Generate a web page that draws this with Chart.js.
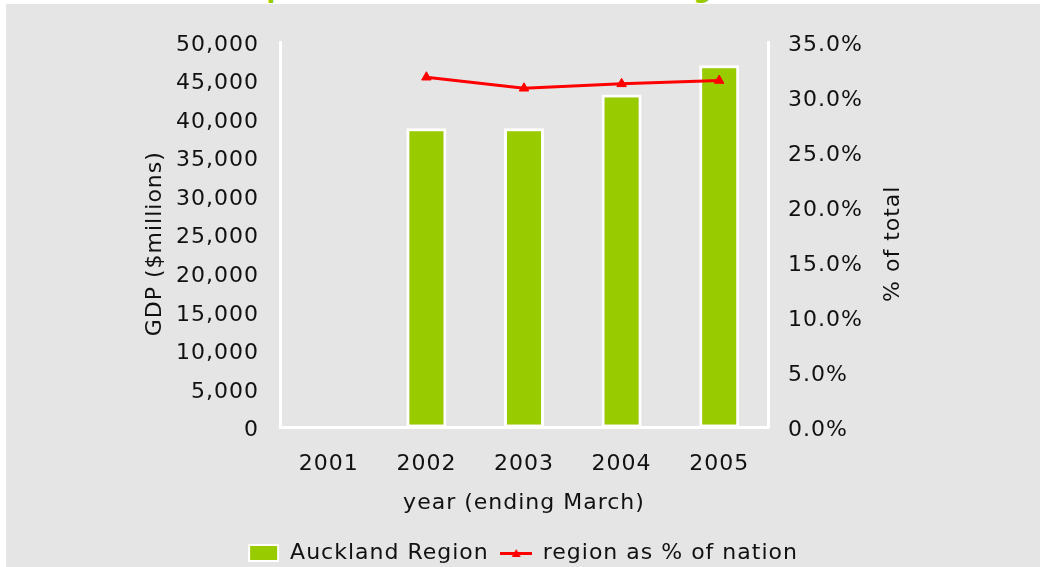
<!DOCTYPE html>
<html>
<head>
<meta charset="utf-8">
<script src="https://cdn.jsdelivr.net/npm/chart.js@4.4.1/dist/chart.umd.min.js"></script>
<style>
  html, body { margin: 0; padding: 0; width: 1040px; height: 567px; overflow: hidden; background: #fff; }
  #title { position: absolute; left: 17px; top: -25px; font: bold 26px 'DejaVu Sans'; line-height: 26px;
           letter-spacing: 1px; color: #99cc00; white-space: nowrap; }
  #wrap { position: absolute; left: 6px; top: 4px; width: 1034px; height: 570px; background: #e5e5e5; }
</style>
</head>
<body>
<div id="title">Gross domestic product of the Auckland Region</div>
<div id="wrap"><canvas id="chart"></canvas></div>
<script>
const years = ['2001', '2002', '2003', '2004', '2005'];
const gdp = [null, 38800, 38800, 43200, 47000];
const share = [null, 31.8, 30.8, 31.2, 31.5];
const gdpTicks = [0, 5000, 10000, 15000, 20000, 25000, 30000, 35000, 40000, 45000, 50000];
const shareTicks = [0, 5, 10, 15, 20, 25, 30, 35];

const green = '#99cc00';
const red = '#ff0000';
const ink = '#111';

Chart.defaults.font.family = 'DejaVu Sans';
Chart.defaults.font.size = 22;
Chart.defaults.color = ink;

// legend swatches: bar box with white edge, line with triangle marker
const barSwatch = document.createElement('canvas');
barSwatch.width = 31; barSwatch.height = 18;
let c = barSwatch.getContext('2d');
c.fillStyle = '#fff'; c.fillRect(0, 0, 31, 18);
c.fillStyle = green; c.fillRect(2, 2, 27, 14);

const lineSwatch = document.createElement('canvas');
lineSwatch.width = 32; lineSwatch.height = 10;
c = lineSwatch.getContext('2d');
c.fillStyle = red; c.fillRect(0, 4, 32, 3);
c.beginPath(); c.moveTo(16, 1); c.lineTo(20.5, 9); c.lineTo(11.5, 9); c.closePath(); c.fill();

const spacing = {
    id: 'spacing',
    beforeUpdate(chart) { chart.ctx.letterSpacing = '1px'; },
    beforeDraw(chart) { chart.ctx.letterSpacing = '1px'; }
};

// both y titles read bottom-to-top, so draw them here
const axisTitles = {
    id: 'axisTitles',
    afterDraw(chart) {
        const {ctx, chartArea, scales} = chart;
        const midY = (chartArea.top + chartArea.bottom) / 2 + 9;
        ctx.save();
        ctx.letterSpacing = '1px';
        ctx.font = '22px "DejaVu Sans"';
        ctx.fillStyle = ink;
        ctx.textAlign = 'center';
        ctx.textBaseline = 'middle';
        [['GDP ($millions)', scales.y.left + 149], ['% of total', scales.y1.left + 125]].forEach(([text, x]) => {
            ctx.save();
            ctx.translate(x, midY);
            ctx.rotate(-Math.PI / 2);
            ctx.fillText(text, 0, 0);
            ctx.restore();
        });
        ctx.restore();
    }
};

new Chart(document.getElementById('chart'), {
    data: {
        labels: years,
        datasets: [{
            type: 'bar',
            label: 'Auckland Region',
            data: gdp,
            yAxisID: 'y',
            order: 2,
            backgroundColor: green,
            borderColor: '#fff',
            borderWidth: 3,
            borderSkipped: false,
            barPercentage: 0.41,
            categoryPercentage: 1
        }, {
            type: 'line',
            label: 'region as % of nation',
            data: share,
            yAxisID: 'y1',
            order: 1,
            borderColor: red,
            backgroundColor: red,
            borderWidth: 3,
            pointStyle: 'triangle',
            pointRadius: 5.5,
            pointBorderWidth: 1,
            tension: 0
        }]
    },
    options: {
        responsive: true,
        maintainAspectRatio: false,
        animation: false,
        layout: { padding: { top: 38, left: 0, right: 0, bottom: 0 } },
        scales: {
            x: {
                grid: { display: false, drawTicks: false },
                border: { display: true, color: '#fff', width: 3, z: 1 },
                ticks: { padding: 24 },
                title: { display: true, text: 'year (ending March)', padding: { top: 0, bottom: 14 } },
                afterFit(scale) { scale.height = 102.5; }
            },
            y: {
                position: 'left',
                min: 0,
                max: 50000,
                grid: { display: false, drawTicks: false },
                border: { display: true, color: '#fff', width: 3, z: 1 },
                ticks: { padding: 21, labelOffset: 3, callback: v => v.toLocaleString('en-US') },
                afterBuildTicks(scale) { scale.ticks = gdpTicks.map(v => ({value: v})); },
                afterFit(scale) { scale.width = 274; }
            },
            y1: {
                position: 'right',
                min: 0,
                max: 35,
                grid: { display: false, drawTicks: false },
                border: { display: true, color: '#fff', width: 3, z: 1 },
                ticks: { padding: 20, labelOffset: 3, callback: v => v.toFixed(1) + '%' },
                afterBuildTicks(scale) { scale.ticks = shareTicks.map(v => ({value: v})); },
                afterFit(scale) { scale.width = 272; }
            }
        },
        plugins: {
            tooltip: { enabled: false },
            legend: {
                position: 'bottom',
                labels: {
                    usePointStyle: true,
                    pointStyleWidth: 31,
                    padding: 12,
                    generateLabels: () => [
                        { text: 'Auckland Region', pointStyle: barSwatch, fillStyle: green, strokeStyle: green,
                          lineWidth: 0, hidden: false, datasetIndex: 0, fontColor: ink },
                        { text: 'region as % of nation', pointStyle: lineSwatch, fillStyle: red, strokeStyle: red,
                          lineWidth: 0, hidden: false, datasetIndex: 1, fontColor: ink }
                    ]
                }
            }
        }
    },
    plugins: [spacing, axisTitles]
});
</script>
</body>
</html>
